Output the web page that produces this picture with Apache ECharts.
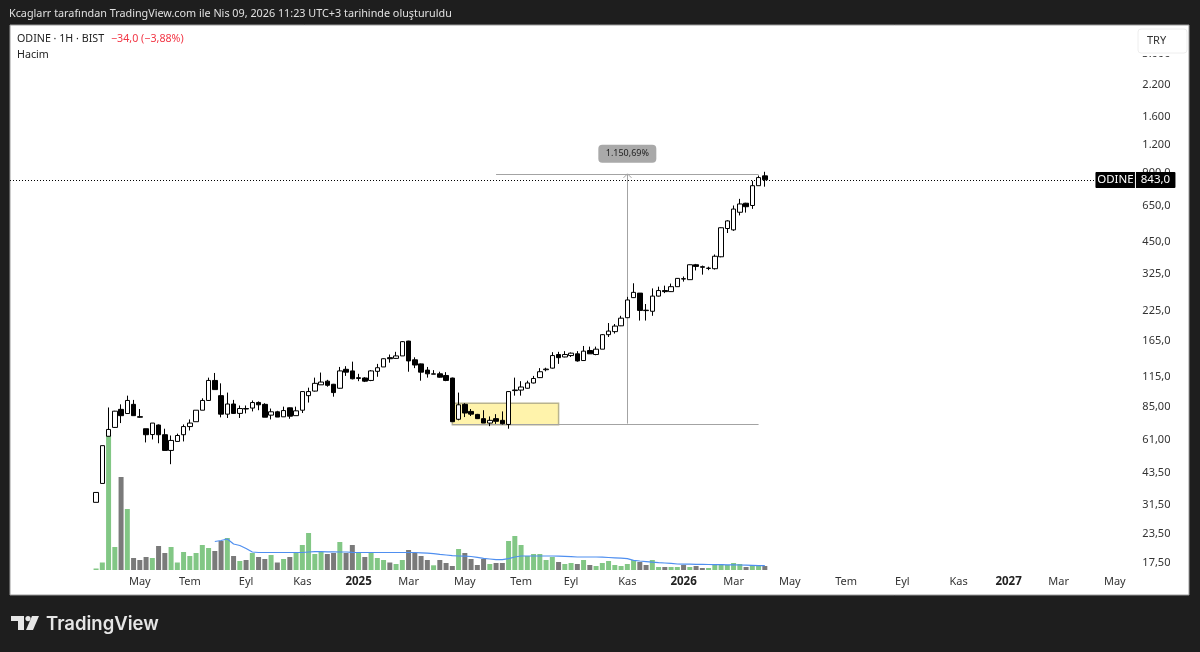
<!DOCTYPE html>
<html>
<head>
<meta charset="utf-8">
<style>
  html, body { margin: 0; padding: 0; background: #1e1e1e; }
  #chart { width: 1200px; height: 652px; }
</style>
<script src="https://cdn.jsdelivr.net/npm/echarts@6/dist/echarts.min.js"></script>
</head>
<body>
<div id="chart"></div>
<script>
// weekly candles
const opens = [32.3,39.1,63,68.9,82.7,79.3,87,76.8,68,64.1,70.6,64,54.6,59.8,64,69.5,73,82,90.5,110.8,95,78.8,87.3,79.4,83.4,83.8,88.7,87,78,80.7,76.7,84,77.6,82,95,99.5,106,110,106.6,102.4,124,122,113,113.6,110.8,121.5,127,139.5,138.5,142,165,136.5,131,123,118,118.5,116.5,113.5,74.8,87,81,78.6,75.3,72,75.3,74,71,100,100.5,102.4,108,114,123.5,125.5,144,140.5,142.5,145,135.5,150,144,152,176,181.5,192.5,209,256,268,225.5,223,260,275,272,286,310,307,357,350,344,343,387,515,508,607,665,650,794,877];
const closes = [35.7,57.3,67.5,81.2,77.6,90.5,77.6,76.4,64,72,64,54.6,60.4,63.5,69.5,72,82,90.5,110.8,101,78.8,87.3,79.4,83.4,83,88.6,86.6,76.4,80.7,76.5,81.7,77.2,81.5,99,99,107.6,109,105.5,98,122,120.5,112.7,114,110,122,126,138,138,142,164,135,129.5,120.5,118.5,118.5,114.5,110.8,73,86.6,79.7,78.8,75.3,72,74,73.3,71.5,99,100.6,103.7,108,113,121,124.3,142.5,139.5,144,146,135,149,145,152,176,182.5,192,208,250,270,225,224.5,260,275,272,286,311,309,357,351,348,345,389,519,556,627,660,642,794,862,843];
const lows = [32.3,39.1,63,68.5,72,79.3,77.6,76,59.2,61,58.7,54.6,47.5,59.8,59.8,66.8,73,82,90,101,76.3,75.8,79,75.8,79.4,81,82,76.4,74.7,76.5,76.7,75.2,77.6,79.7,88.6,99,106,104,94,102,116,112,110,109,110,115,127,132.6,138,142,121,125.5,110.5,114,118,114,110,73,74,76.5,77.3,75,72,69.8,71.4,71,68,95,95,102,107.5,113.5,121.5,125,131,140,140.5,134,135,145,143,152,172,178,192,209,255,203,203,213,259,268,271,286,301,307,337,323,338,340,385,492,503,588,605,628,794,786];
const highs = [35.7,57.3,84.3,81.5,87,95,91,83,68,72,71,68,63.5,64.7,71,74.7,82,92.5,114,119.5,107.6,98,91,86,86,90.5,89.6,88,83.4,81.5,85,84.3,85,99,103,114,120,111.5,107,127,128,134,118.5,114.5,123,131,138.5,144,148,165,165.5,140,131.5,127,123,121,120.5,114,98,88,83,79,82,77,78.8,81,99.5,114,110,110.5,116,125.5,126,147.5,148,149,147,149,157,156,156,177,198,196,213,258,296,268,240,281,286,289,295,312,317,358,360,354,350,396,521,560,650,695,668,834,880,914];

// volume bars in chart units, first bar has no candle wick so the scale is just read height
const volumes = [1.5,7.5,135,23,93,61,12,10,13,12,24,17,23,7.5,18,14,17,25,22,19,29,32,14,9,10,17,13,11,15,7.5,11,13,17,25,37,16,18,16,17,28,17,25,18,13,17,12,10,7.5,6,10,20,17,14,10,4.7,10,7,4,21,17,11,5,11,6,7,7,29,34,25,14,16,16,10,13,8,6,7,6,10,5,4,7,9,5,4,6,10,8,5,10,3,3,3,3,5,3,4,2,2,5,6,5,7,6,3,5,5,4];
const volumeAverage = [null,null,null,null,null,null,null,null,null,null,null,null,null,null,null,null,null,null,null,28.5,29.5,31,26,24.5,21.5,18,17.5,17.5,17.5,17.5,17.5,17.5,17.5,17.5,18,18.3,18.3,18.2,18.2,18,18,17.7,17.5,17.5,17.5,17.5,17.5,17.5,17.5,17.5,17.5,17.5,17.2,16.8,16.3,15.6,15,14.3,14,13.8,13.5,12.6,11.7,11,10.3,10.3,11.3,13,14,14,14,14,14,14,13.8,13.6,13.3,13,13,13,13,12.8,12.5,12.2,11.9,11.3,9.7,9,8.4,7.8,7.3,7,6.6,6,5.9,5.8,5.7,5.6,5.5,5.4,5.3,5.2,5.1,5,4.8,4.6,4.4,4.3];

const tickValues = [17.5,23.5,31.5,43.5,61,85,115,165,225,325,450,650,900,1200,1600,2200,3000];
const tickLabels = ["17,50","23,50","31,50","43,50","61,00","85,00","115,0","165,0","225,0","325,0","450,0","650,0","900,0","1.200","1.600","2.200","3.000"];

const monthIndex = [20,28,37,46,55,63,72,81,89,98,107,115,124,133,142,151,159,167,176];
const monthLabels = ["May","Tem","Eyl","Kas","2025","Mar","May","Tem","Eyl","Kas","2026","Mar","May","Tem","Eyl","Kas","2027","Mar","May"];

const FIRST_SLOT = 13;   // empty weeks on the left of the first candle
const SLOTS = 179;
const lastPrice = 843;
const boxRange = [57, 74, 70.8, 88];        // from, to, low, high
const measureLow = 71.6, measureHigh = 895;
const measureFrom = 64, baseFrom = 57, measureTo = 106, arrowAt = 85;

const FONT = '"Noto Sans", sans-serif';

const pad = new Array(FIRST_SLOT).fill(null);
const categories = [];
for (let i = 0; i < SLOTS; i++) {
  const k = monthIndex.indexOf(i);
  categories.push(k >= 0 ? monthLabels[k] : "");
}
const candleData = opens.map((o, i) => [o, closes[i], lows[i], highs[i]]);
const volumeData = volumes.map((v, i) => ({
  value: v,
  itemStyle: { color: closes[i] >= opens[i] ? "#82c785" : "#7a7a7a" }
}));

const chart = echarts.init(document.getElementById("chart"));

const snap = v => Math.round(v) + 0.5;

function drawMeasure(params, api) {
  const at = (i, p) => api.coord([i + FIRST_SLOT, p]);
  const boxA = at(boxRange[0], boxRange[3]);
  const boxB = at(boxRange[1], boxRange[2]);
  const lo = at(baseFrom, measureLow);
  const loEnd = at(measureTo, measureLow);
  const hi = at(measureFrom, measureHigh);
  const hiEnd = at(measureTo, measureHigh);
  const arrowTop = at(arrowAt, measureHigh);
  const arrowBase = at(arrowAt, measureLow);
  const lastY = snap(at(0, lastPrice)[1]);
  const cs = params.coordSys;
  const grey = "#a3a3a3";
  return {
    type: "group",
    children: [
      { type: "line", shape: { x1: 10, y1: lastY, x2: cs.x + cs.width - 35, y2: lastY },
        style: { stroke: "#000", lineWidth: 1, lineDash: [1, 2] } },
      { type: "rect", shape: { x: boxA[0], y: boxA[1], width: boxB[0] - boxA[0], height: boxB[1] - boxA[1] },
        style: { fill: "#fff3ab", stroke: "#b9b48e", lineWidth: 1.5 } },
      { type: "line", shape: { x1: lo[0], y1: snap(lo[1]), x2: loEnd[0], y2: snap(lo[1]) }, style: { stroke: grey, lineWidth: 1 } },
      { type: "line", shape: { x1: hi[0], y1: snap(hi[1]), x2: hiEnd[0], y2: snap(hi[1]) }, style: { stroke: grey, lineWidth: 1 } },
      { type: "line", shape: { x1: snap(arrowBase[0]), y1: arrowBase[1], x2: snap(arrowBase[0]), y2: arrowTop[1] }, style: { stroke: grey, lineWidth: 1 } },
      { type: "polyline", shape: { points: [[snap(arrowTop[0]) - 4, arrowTop[1] + 4], [snap(arrowTop[0]), arrowTop[1]], [snap(arrowTop[0]) + 4, arrowTop[1] + 4]] },
        style: { stroke: grey, lineWidth: 1, fill: null } },
      { type: "rect", shape: { x: arrowTop[0] - 29, y: arrowTop[1] - 29, width: 58, height: 18, r: 4 }, style: { fill: "#a9a9a9" } },
      { type: "text", style: { x: arrowTop[0], y: arrowTop[1] - 20, text: "1.150,69%", fill: "#222", font: '9px ' + FONT, textAlign: "center", textVerticalAlign: "middle" } }
    ]
  };
}

function drawPriceTag(params, api) {
  const y = Math.round(api.coord([FIRST_SLOT, lastPrice])[1]);
  const cs = params.coordSys;
  const right = cs.x + cs.width;
  return {
    type: "group",
    children: [
      { type: "rect", shape: { x: right - 35, y: y - 8, width: 80, height: 16, r: 1 }, style: { fill: "#000" } },
      { type: "line", shape: { x1: right + 5, y1: y - 8, x2: right + 5, y2: y + 8 }, style: { stroke: "#fff", lineWidth: 1 } },
      { type: "text", style: { x: right - 15, y: y, text: "ODINE", fill: "#fff", font: '11.5px ' + FONT, textAlign: "center", textVerticalAlign: "middle" } },
      { type: "text", style: { x: right + 25, y: y, text: "843,0", fill: "#fff", font: '11.5px ' + FONT, textAlign: "center", textVerticalAlign: "middle" } }
    ]
  };
}

chart.setOption({
  backgroundColor: "#1e1e1e",
  animation: false,
  textStyle: { fontFamily: FONT },
  grid: [
    { left: 11.7, width: 1118.75, top: 27, bottom: 81 },
    { left: 11.7, width: 1118.75, height: 150, bottom: 82 }
  ],
  xAxis: [
    {
      type: "category", gridIndex: 0, data: categories, boundaryGap: true,
      axisLine: { show: false }, axisTick: { show: false }, splitLine: { show: false },
      axisLabel: {
        interval: 0, margin: 5, color: "#333", fontSize: 11, hideOverlap: false,
        formatter: v => (/^\d+$/.test(v) ? "{y|" + v + "}" : v),
        rich: { y: { fontWeight: "bold", fontSize: 11.5, color: "#222" } }
      }
    },
    {
      type: "category", gridIndex: 1, data: categories, boundaryGap: true,
      axisLine: { show: false }, axisTick: { show: false }, axisLabel: { show: false }
    }
  ],
  yAxis: [
    {
      type: "log", logBase: Math.E, gridIndex: 0, position: "right",
      min: 16.13, max: 3952,
      axisLine: { show: false }, axisTick: { show: false }, splitLine: { show: false }, minorTick: { show: false },
      axisLabel: {
        customValues: tickValues, align: "right", margin: 40, color: "#333", fontSize: 11,
        formatter: v => {
          const k = tickValues.findIndex(t => Math.abs(t - v) / t < 0.01);
          return k >= 0 ? tickLabels[k] : "";
        }
      }
    },
    {
      type: "value", gridIndex: 1, min: 0, max: 150,
      axisLine: { show: false }, axisTick: { show: false }, splitLine: { show: false }, axisLabel: { show: false }
    }
  ],
  series: [
    { type: "custom", xAxisIndex: 0, yAxisIndex: 0, z: 1, clip: false, silent: true,
      data: [[FIRST_SLOT, lastPrice]], encode: { x: 0, y: 1 }, renderItem: drawMeasure },
    {
      type: "bar", xAxisIndex: 1, yAxisIndex: 1, z: 2, barWidth: 5,
      data: pad.concat(volumeData)
    },
    {
      type: "line", xAxisIndex: 1, yAxisIndex: 1, z: 3, showSymbol: false, connectNulls: false,
      lineStyle: { color: "#4f8ff0", width: 1.2 },
      data: pad.concat(volumeAverage)
    },
    {
      type: "candlestick", xAxisIndex: 0, yAxisIndex: 0, z: 4, barWidth: 5,
      itemStyle: { color: "#ffffff", color0: "#000000", borderColor: "#000000", borderColor0: "#000000", borderWidth: 1 },
      data: pad.map(() => "-").concat(candleData)
    },
    { type: "custom", xAxisIndex: 0, yAxisIndex: 0, z: 20, clip: false, silent: true,
      data: [[FIRST_SLOT, lastPrice]], encode: { x: 0, y: 1 }, renderItem: drawPriceTag }
  ],
  graphic: [
    { type: "rect", z: -10, shape: { x: 10, y: 25, width: 1179, height: 570 }, style: { fill: "#fff", stroke: "#9a9a9a", lineWidth: 1 } },
    { type: "text", z: 50, x: 9, y: 14, style: { text: "Kcaglarr tarafından TradingView.com ile Nis 09, 2026 11:23 UTC+3 tarihinde oluşturuldu", fill: "#e0e0e0", font: '10.8px ' + FONT, textVerticalAlign: "middle" } },
    { type: "text", z: 50, x: 17, y: 39, style: { text: "ODINE · 1H · BIST", fill: "#222", font: '10.7px ' + FONT, textVerticalAlign: "middle" } },
    { type: "text", z: 50, x: 111, y: 39, style: { text: "−34,0 (−3,88%)", fill: "#f23645", font: '10.7px ' + FONT, textVerticalAlign: "middle" } },
    { type: "text", z: 50, x: 17, y: 55, style: { text: "Hacim", fill: "#222", font: '10.7px ' + FONT, textVerticalAlign: "middle" } },
    { type: "rect", z: 99, shape: { x: 1138, y: 45, width: 49, height: 11 }, style: { fill: "#fff" } },
    { type: "rect", z: 100, shape: { x: 1138, y: 29, width: 49, height: 24, r: 3 }, style: { fill: "#fff", stroke: "#eeeeee", lineWidth: 1 } },
    { type: "text", z: 101, x: 1147, y: 41, style: { text: "TRY", fill: "#333", font: '11px ' + FONT, textVerticalAlign: "middle" } },
    // logo
    { type: "polygon", z: 50, shape: { points: [[11, 616], [24, 616], [24, 630], [18, 630], [18, 621], [11, 621]] }, style: { fill: "#e6e6e6" } },
    { type: "circle", z: 50, shape: { cx: 28, cy: 618.6, r: 2.6 }, style: { fill: "#e6e6e6" } },
    { type: "polygon", z: 50, shape: { points: [[32, 616], [39, 616], [33, 630], [26, 630]] }, style: { fill: "#e6e6e6" } },
    { type: "text", z: 50, x: 46, y: 624, style: { text: "TradingView", fill: "#e6e6e6", font: '600 18.5px Inter, ' + FONT, textVerticalAlign: "middle" } }
  ]
});
</script>
</body>
</html>
